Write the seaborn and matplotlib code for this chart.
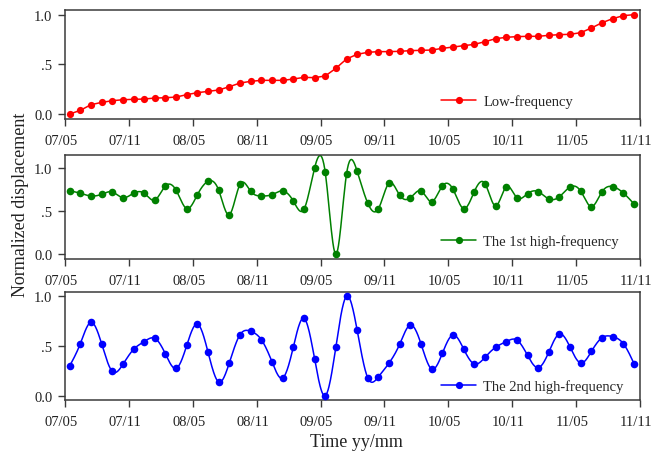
import numpy as np
import pandas as pd
import matplotlib
matplotlib.use("Agg")
import matplotlib.pyplot as plt
import matplotlib.transforms as mtransforms
from matplotlib.lines import Line2D
from matplotlib.ticker import FixedLocator, FuncFormatter
import seaborn as sns

# Monthly samples from 2007/05 to 2011/10
low_freq = [0.000, 0.037, 0.094, 0.117, 0.134, 0.144, 0.148, 0.151, 0.161, 0.164,
            0.171, 0.195, 0.215, 0.228, 0.242, 0.275, 0.312, 0.329, 0.339, 0.339,
            0.339, 0.352, 0.369, 0.366, 0.383, 0.460, 0.554, 0.601, 0.621, 0.628,
            0.628, 0.631, 0.638, 0.641, 0.644, 0.661, 0.674, 0.688, 0.701, 0.728,
            0.758, 0.772, 0.779, 0.782, 0.782, 0.792, 0.799, 0.802, 0.819, 0.866,
            0.919, 0.960, 0.990, 1.000]

high_1st = [0.737, 0.707, 0.676, 0.695, 0.722, 0.656, 0.707, 0.707, 0.629, 0.792,
            0.741, 0.529, 0.691, 0.846, 0.741, 0.459, 0.811, 0.730, 0.676, 0.691,
            0.734, 0.618, 0.521, 1.000, 0.950, 0.000, 0.930, 0.961, 0.591, 0.529,
            0.826, 0.683, 0.656, 0.734, 0.610, 0.792, 0.753, 0.529, 0.726, 0.819,
            0.560, 0.784, 0.656, 0.703, 0.726, 0.641, 0.668, 0.780, 0.730, 0.552,
            0.726, 0.784, 0.710, 0.583]

high_2nd = [0.299, 0.523, 0.738, 0.523, 0.245, 0.315, 0.466, 0.544, 0.577, 0.419,
            0.275, 0.507, 0.721, 0.436, 0.138, 0.332, 0.614, 0.648, 0.564, 0.342,
            0.178, 0.487, 0.779, 0.372, 0.000, 0.493, 1.000, 0.658, 0.178, 0.191,
            0.329, 0.520, 0.711, 0.520, 0.268, 0.426, 0.611, 0.470, 0.319, 0.386,
            0.487, 0.544, 0.560, 0.406, 0.282, 0.440, 0.621, 0.487, 0.329, 0.446,
            0.584, 0.594, 0.523, 0.322]

tick_labels = ["07/05", "07/11", "08/05", "08/11", "09/05",
               "09/11", "10/05", "10/11", "11/05", "11/11"]

series_names = ["Low-frequency", "The 1st high-frequency", "The 2nd high-frequency"]
series_colors = ["#ff0000", "#008000", "#0000ff"]

# time axis in months since 2007/05; samples sit mid-month
t = np.arange(len(low_freq)) + 0.44


def natural_spline(x, y, n=1200):
    """Natural cubic spline through (x, y), evaluated on a dense grid."""
    x = np.asarray(x, float)
    y = np.asarray(y, float)
    m = len(x)
    h = np.diff(x)
    A = np.zeros((m, m))
    b = np.zeros(m)
    A[0, 0] = A[-1, -1] = 1.0
    for i in range(1, m - 1):
        A[i, i - 1] = h[i - 1]
        A[i, i] = 2 * (h[i - 1] + h[i])
        A[i, i + 1] = h[i]
        b[i] = 6 * ((y[i + 1] - y[i]) / h[i] - (y[i] - y[i - 1]) / h[i - 1])
    M = np.linalg.solve(A, b)
    xs = np.linspace(x[0], x[-1], n)
    k = np.clip(np.searchsorted(x, xs) - 1, 0, m - 2)
    dx1 = xs - x[k]
    dx2 = x[k + 1] - xs
    hk = h[k]
    ys = (M[k] * dx2 ** 3 / (6 * hk) + M[k + 1] * dx1 ** 3 / (6 * hk)
          + (y[k] / hk - M[k] * hk / 6) * dx2
          + (y[k + 1] / hk - M[k + 1] * hk / 6) * dx1)
    return xs, ys


sns.set_style("ticks")
plt.rcParams["font.family"] = ["Liberation Serif", "DejaVu Serif"]
plt.rcParams["axes.edgecolor"] = "#3a3a3a"
plt.rcParams["xtick.color"] = "#3a3a3a"
plt.rcParams["ytick.color"] = "#3a3a3a"
plt.rcParams["xtick.labelcolor"] = "#222222"
plt.rcParams["ytick.labelcolor"] = "#222222"

fig = plt.figure(figsize=(6.51, 4.52), dpi=100)
fig.patch.set_facecolor("white")

left, width = 0.0998, 0.8833
boxes = [(0.7345, 0.2412), (0.4248, 0.2308), (0.1135, 0.2376)]
ylims = [(-0.05, 1.047), (-0.054, 1.154), (-0.04, 1.04)]
legend_y = [0.165, 0.175, 0.13]
data = [low_freq, high_1st, high_2nd]
smooth = [False, True, True]

# x tick labels sit a little left of their ticks
label_shift = mtransforms.ScaledTranslation(-4.0 / 100, 0, fig.dpi_scale_trans)

for i in range(3):
    bottom, height = boxes[i]
    ax = fig.add_axes([left, bottom, width, height])
    color = series_colors[i]
    vals = data[i]
    df = pd.DataFrame({"t": t, "v": vals})
    if smooth[i]:
        xs, ys = natural_spline(t, vals)
        sns.lineplot(x=xs, y=ys, ax=ax, color=color, linewidth=1.1,
                     sort=False, estimator=None)
        sns.scatterplot(data=df, x="t", y="v", ax=ax, color=color,
                        s=30, edgecolor=color, linewidth=0, zorder=3)
    else:
        sns.lineplot(data=df, x="t", y="v", ax=ax, color=color, linewidth=1.1,
                     marker="o", markersize=5.2, markeredgecolor=color,
                     markeredgewidth=0, estimator=None)

    ax.set_xlim(0, 54)
    ax.set_ylim(*ylims[i])
    ax.xaxis.set_major_locator(FixedLocator(np.arange(0, 55, 6)))
    ax.set_xticklabels(tick_labels)
    ax.yaxis.set_major_locator(FixedLocator([0.0, 0.5, 1.0]))
    ax.yaxis.set_major_formatter(
        FuncFormatter(lambda v, p: {0.0: "0.0", 0.5: ".5", 1.0: "1.0"}.get(round(v, 1), "")))
    ax.tick_params(axis="both", direction="out", length=5, width=1.0,
                   labelsize=10.5, pad=4)
    ax.tick_params(axis="x", pad=6)
    for lab in ax.get_xticklabels():
        lab.set_transform(lab.get_transform() + label_shift)
    ax.set_xlabel("")
    ax.set_ylabel("")
    for sp in ax.spines.values():
        sp.set_visible(True)
        sp.set_linewidth(1.1)
        sp.set_color("#3a3a3a")

    handle = Line2D([], [], color=color, linewidth=1.1, marker="o",
                    markersize=5.2, markeredgewidth=0)
    ax.legend([handle], [series_names[i]], loc="center left",
              bbox_to_anchor=(0.654, legend_y[i]), frameon=False,
              fontsize=10.5, handlelength=2.4, handletextpad=0.5,
              borderpad=0, borderaxespad=0)

fig.text(0.031, 0.546, "Normalized displacement", rotation=90,
         ha="center", va="center", fontsize=13, color="#222222")
fig.text(0.547, 0.022, "Time yy/mm", ha="center", va="center",
         fontsize=13, color="#222222")

fig.savefig("out.png", dpi=100, facecolor="white")
